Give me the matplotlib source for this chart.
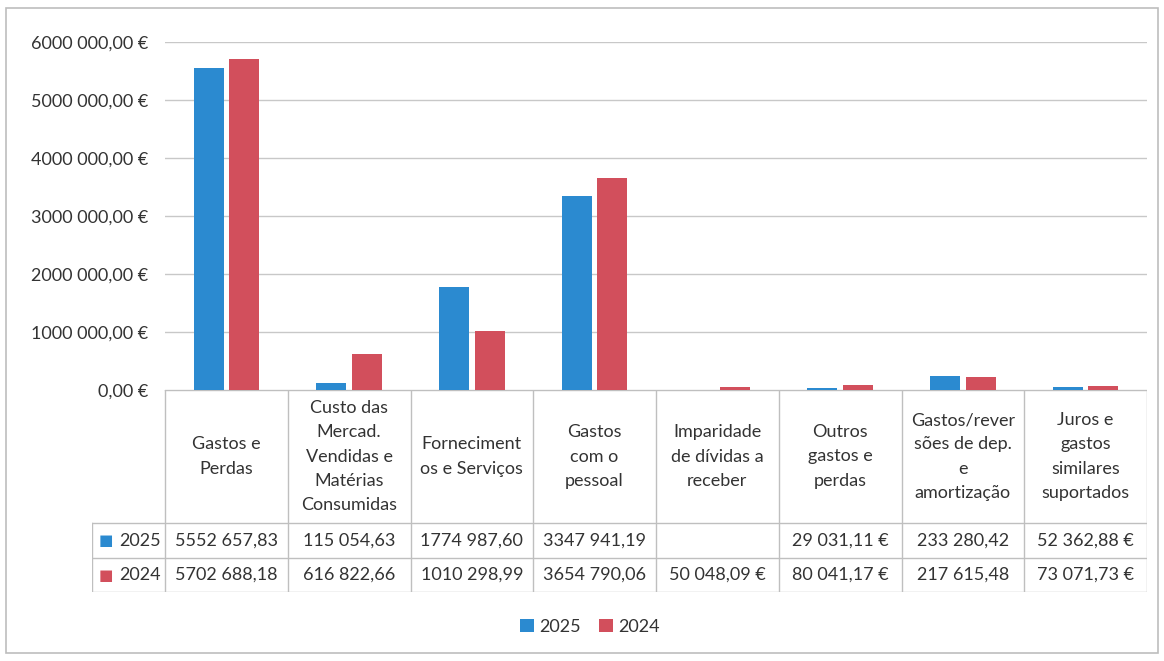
import numpy as np
import matplotlib
matplotlib.use("Agg")
import matplotlib.pyplot as plt
from matplotlib.patches import Rectangle

categories = ["Gastos e\nPerdas",
              "Custo das\nMercad.\nVendidas e\nMatérias\nConsumidas",
              "Forneciment\nos e Serviços",
              "Gastos\ncom o\npessoal",
              "Imparidade\nde dívidas a\nreceber",
              "Outros\ngastos e\nperdas",
              "Gastos/rever\nsões de dep.\ne\namortização",
              "Juros e\ngastos\nsimilares\nsuportados"]
values_2025 = [5552657.83, 115054.63, 1774987.60, 3347941.19, np.nan, 29031.11, 233280.42, 52362.88]
values_2024 = [5702688.18, 616822.66, 1010298.99, 3654790.06, 50048.09, 80041.17, 217615.48, 73071.73]
euro_suffix = [False, False, False, False, True, True, False, True]
series_names = ["2025", "2024"]
yticks = [0, 1000000, 2000000, 3000000, 4000000, 5000000, 6000000]

BLUE = "#2B8AD0"
RED = "#D24F5C"
GRID = "#C8C8C8"
FONT = "Lato"
plt.rcParams["font.family"] = [FONT, "DejaVu Sans"]
TXT = "#333333"
FS = 13


def fmt_eur(v, euro=True):
    # mimics the scanned format: 5552 657,83 / 115 054,63
    cents = int(round(v * 100))
    ip, dec = cents // 100, cents % 100
    s = f"{ip // 1000} {ip % 1000:03d}" if ip >= 1000 else str(ip)
    s = f"{s},{dec:02d}"
    return s + " €" if euro else s


W, H = 1164, 661
fig = plt.figure(figsize=(W / 100, H / 100), dpi=100)

# outer frame
fig.add_artist(Rectangle((6 / W, 8 / H), 1152 / W, 645 / H, transform=fig.transFigure,
                         fill=False, edgecolor="#BDBDBD", linewidth=1.2))

x0, x1, y_zero, y_top = 165, 1147, 390, 42
col_w = (x1 - x0) / len(categories)
ax = fig.add_axes([x0 / W, (H - y_zero) / H, (x1 - x0) / W, (y_zero - y_top) / H])

x = np.arange(len(categories))
bw = 0.245
off = 0.145
ax.bar(x - off, values_2025, bw, color=BLUE, zorder=3, label=series_names[0])
ax.bar(x + off, values_2024, bw, color=RED, zorder=3, label=series_names[1])

ax.set_xlim(-0.5, len(categories) - 0.5)
ax.set_ylim(0, 6000000)
ax.set_yticks(yticks)
ax.set_yticklabels([fmt_eur(t) for t in yticks], fontsize=FS, color=TXT)
ax.tick_params(axis="y", length=0, pad=12)
ax.set_xticks([])
ax.yaxis.grid(True, color=GRID, linewidth=1.0, zorder=0)
for s in ax.spines.values():
    s.set_visible(False)

# data table under the plot
t_left, t_bottom = 92, 592
row_h = [133, 35, 34]
tax = fig.add_axes([t_left / W, (H - t_bottom) / H, (x1 - t_left) / W, (t_bottom - y_zero) / H])
label_w = (x0 - t_left) / col_w
tax.set_xlim(-0.5 - label_w, len(categories) - 0.5)
tax.set_ylim(sum(row_h), 0)
tax.axis("off")

lc = "#BFBFBF"
yb = np.cumsum([0] + row_h)
# horizontal lines
tax.plot([-0.5, len(categories) - 0.5], [0, 0], color=lc, lw=1)
for yy in yb[1:]:
    tax.plot([-0.5 - label_w, len(categories) - 0.5], [yy, yy], color=lc, lw=1)
# vertical lines
for i in range(len(categories) + 1):
    tax.plot([i - 0.5, i - 0.5], [0, yb[-1]], color=lc, lw=1)
tax.plot([-0.5 - label_w] * 2, [yb[1], yb[-1]], color=lc, lw=1)

for i, cat in enumerate(categories):
    tax.text(i, row_h[0] / 2, cat, ha="center", va="center", fontsize=FS,
             color=TXT, linespacing=1.62)

for r, (vals, colr) in enumerate([(values_2025, BLUE), (values_2024, RED)]):
    yc = (yb[r + 1] + yb[r + 2]) / 2
    tax.text(-0.5 - label_w + 0.05, yc, "■", ha="left", va="center",
             fontsize=11, color=colr, family="DejaVu Sans")
    tax.text(-0.5 - 0.03, yc, series_names[r], ha="right", va="center", fontsize=FS, color=TXT)
    for i, v in enumerate(vals):
        if np.isnan(v):
            continue
        tax.text(i, yc, fmt_eur(v, euro_suffix[i]), ha="center", va="center",
                 fontsize=FS, color=TXT)

# legend
handles, labels = ax.get_legend_handles_labels()
fig.legend(handles, labels, loc="center", bbox_to_anchor=(590 / W, (H - 627) / H),
           ncol=2, frameon=False, fontsize=FS, handlelength=0.75, handleheight=0.75,
           handletextpad=0.3, columnspacing=1.0, labelcolor=TXT)

fig.savefig("out.png", dpi=100, facecolor="white")
